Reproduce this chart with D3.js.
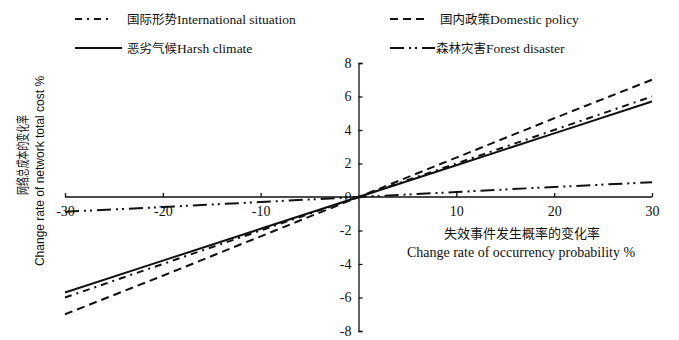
<!DOCTYPE html>
<html>
<head>
  <meta charset="utf-8">
  <title>Change rate of network total cost</title>
  <script src="https://d3js.org/d3.v7.min.js"></script>
  <style>
    body { margin: 0; background: #fff; }
    svg { display: block; }
    .serif { font-family: 'Liberation Serif', 'Times New Roman', serif; fill: #111; }
    .cjk { font-family: 'Noto Sans CJK SC', sans-serif; fill: #111; }
    .axis path, .axis line { stroke: #111; stroke-width: 1.3; }
    .axis text { font-family: 'Liberation Serif', 'Times New Roman', serif; font-size: 14px; fill: #111; }
  </style>
</head>
<body>
  <div id="chart"></div>
  <script>
    // change rate of occurrency probability (%)
    var xVals = [-30, -20, -10, 0, 10, 20, 30];
    var international = [-6.0, -4.0, -2.0, 0, 2.0, 4.0, 6.0];
    var domestic = [-7.0, -4.7, -2.35, 0, 2.35, 4.7, 7.0];
    var climate = [-5.7, -3.8, -1.9, 0, 1.9, 3.8, 5.7];
    var forest = [-0.88, -0.6, -0.3, 0, 0.3, 0.6, 0.88];
    var xTicks = [-30, -20, -10, 10, 20, 30];
    var yTicks = [-8, -6, -4, -2, 0, 2, 4, 6, 8];

    var series = [
      {cn: "国际形势", en: "International situation", values: international, dash: "7,5,2,5"},
      {cn: "国内政策", en: "Domestic policy", values: domestic, dash: "8,5"},
      {cn: "恶劣气候", en: "Harsh climate", values: climate, dash: null},
      {cn: "森林灾害", en: "Forest disaster", values: forest, dash: "14,5,2,4,2,5"}
    ];

    var W = 679, H = 340;
    var svg = d3.select("#chart").append("svg")
      .attr("width", W).attr("height", H);

    var x = d3.scaleLinear().domain([-30, 30]).range([65, 652]);
    var y = d3.scaleLinear().domain([-8, 8]).range([331, 63]);

    var fmt = function(d) { return String(d); };  // plain hyphen minus

    // x axis on y = 0, ticks pointing up
    var gx = svg.append("g")
      .attr("class", "axis")
      .attr("transform", "translate(0," + y(0) + ")")
      .call(d3.axisBottom(x).tickValues(xTicks).tickFormat(fmt)
        .tickSizeInner(-4).tickSizeOuter(0).tickPadding(9));
    gx.select(".domain").attr("d", "M" + x(-30) + ",0H" + x(30));

    // y axis on x = 0, ticks pointing right
    svg.append("g")
      .attr("class", "axis")
      .attr("transform", "translate(" + x(0) + ",0)")
      .call(d3.axisLeft(y).tickValues(yTicks).tickFormat(fmt)
        .tickSizeInner(-4).tickSizeOuter(-4).tickPadding(7));

    // lines
    var line = d3.line()
      .x(function(d, i) { return x(xVals[i]); })
      .y(function(d) { return y(d); });

    svg.selectAll(".series")
      .data(series)
      .enter().append("path")
      .attr("class", "series")
      .attr("d", function(d) { return line(d.values); })
      .attr("fill", "none")
      .attr("stroke", "#111")
      .attr("stroke-width", 2)
      .attr("stroke-dasharray", function(d) { return d.dash; });

    // legend
    var legendPos = [
      {lx: 75, lx2: 112, tx: 127, ty: 19},
      {lx: 390, lx2: 425, tx: 440, ty: 19},
      {lx: 75, lx2: 122, tx: 127, ty: 48},
      {lx: 390, lx2: 435, tx: 436, ty: 48}
    ];
    series.forEach(function(s, i) {
      var p = legendPos[i];
      svg.append("line")
        .attr("x1", p.lx).attr("x2", p.lx2)
        .attr("y1", p.ty).attr("y2", p.ty)
        .attr("stroke", "#111").attr("stroke-width", 2.2)
        .attr("stroke-dasharray", s.dash);
      var t = svg.append("text")
        .attr("x", p.tx).attr("y", p.ty + 5)
        .attr("font-size", 13.5);
      t.append("tspan").attr("class", "cjk").attr("font-size", 12.5).text(s.cn);
      t.append("tspan").attr("class", "serif").text(s.en);
    });

    // x axis title
    svg.append("text")
      .attr("class", "cjk")
      .attr("x", 522).attr("y", 238)
      .attr("text-anchor", "middle")
      .attr("font-size", 13)
      .text("失效事件发生概率的变化率");
    svg.append("text")
      .attr("class", "serif")
      .attr("x", 521).attr("y", 257)
      .attr("text-anchor", "middle")
      .attr("font-size", 14)
      .text("Change rate of occurrency probability %");

    // y axis title
    svg.append("text")
      .attr("class", "cjk")
      .attr("transform", "translate(27,155) rotate(-90)")
      .attr("text-anchor", "middle")
      .attr("font-size", 13)
      .attr("textLength", 80)
      .attr("lengthAdjust", "spacingAndGlyphs")
      .text("网络总成本的变化率");
    svg.append("text")
      .attr("transform", "translate(44,171) rotate(-90)")
      .attr("text-anchor", "middle")
      .attr("font-family", "'Liberation Sans', Arial, sans-serif")
      .attr("font-size", 12)
      .attr("fill", "#111")
      .text("Change rate of  network total cost %");
  </script>
</body>
</html>
